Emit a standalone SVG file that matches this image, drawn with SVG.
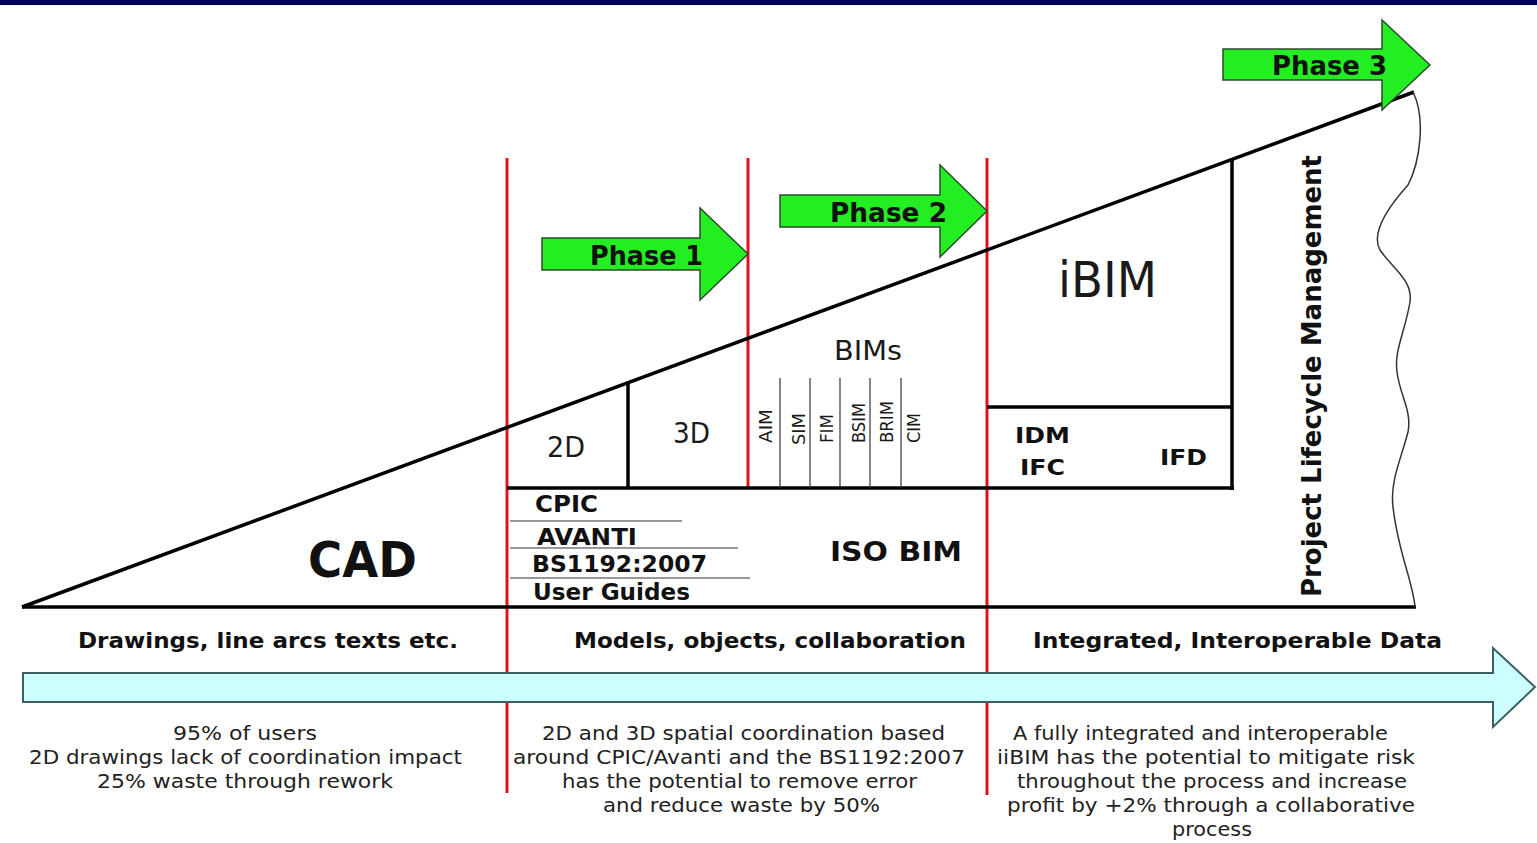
<svg xmlns="http://www.w3.org/2000/svg" width="1537" height="843" viewBox="0 0 1537 843">
<style>
.b{font-family:"DejaVu Sans","Liberation Sans",sans-serif;font-weight:bold;fill:#111}
.r{font-family:"DejaVu Sans","Liberation Sans",sans-serif;fill:#1a1a1a}
.note{font-family:"DejaVu Sans","Liberation Sans",sans-serif;font-size:19px;fill:#222}
.thick{stroke:#000;stroke-width:3.5;fill:none}
.thin{stroke:#333;stroke-width:1.2;fill:none}
.red{stroke:#e0101e;stroke-width:3;fill:none}
.phase{fill:#22ee22;stroke:#2c4c2c;stroke-width:1.5}
</style>
<rect x="0" y="0" width="1537" height="843" fill="#ffffff"/>
<rect x="0" y="0" width="1537" height="5" fill="#000060"/>

<g id="connectors">
  <g id="dividers">
    <line class="red" x1="507" y1="158" x2="507" y2="793"/>
    <line class="red" x1="748" y1="158" x2="748" y2="488"/>
    <line class="red" x1="987" y1="158" x2="987" y2="795"/>
  </g>
  <g id="frame">
    <line class="thick" x1="22" y1="607" x2="1414" y2="92"/>
    <line class="thick" x1="22" y1="607" x2="1416" y2="607"/>
    <path d="M1413,92 C1426,118 1420,162 1408,185 C1390,205 1370,232 1380,250 C1392,268 1413,280 1410,302 C1405,332 1394,350 1397,372 C1400,396 1412,410 1408,432 C1400,462 1390,482 1393,507 C1398,552 1413,582 1415,607" fill="none" stroke="#333" stroke-width="1.5"/>
    <line class="thick" x1="628" y1="383" x2="628" y2="488"/>
    <line class="thick" x1="507" y1="488" x2="1234" y2="488"/>
    <line class="thick" x1="1232" y1="159" x2="1232" y2="490"/>
    <line class="thick" x1="987" y1="407" x2="1232" y2="407"/>
    <line class="thin" x1="780" y1="378" x2="780" y2="488"/>
    <line class="thin" x1="810" y1="378" x2="810" y2="488"/>
    <line class="thin" x1="840" y1="378" x2="840" y2="488"/>
    <line class="thin" x1="870" y1="378" x2="870" y2="488"/>
    <line class="thin" x1="901" y1="378" x2="901" y2="488"/>
    <line class="thin" x1="510" y1="521" x2="682" y2="521"/>
    <line class="thin" x1="510" y1="548" x2="738" y2="548"/>
    <line class="thin" x1="510" y1="578" x2="750" y2="578"/>
  </g>
</g>

<g id="timeline-arrow">
  <polygon points="23,673 1493,673 1493,648 1535,687 1493,727 1493,702 23,702" fill="#ccffff" stroke="#3d5f5f" stroke-width="2"/>
</g>

<g id="phase1">
  <polygon class="phase" points="542,238 700,238 700,208 748,254 700,300 700,270 542,270"/>
  <text class="b" x="590" y="265" font-size="26" textLength="113" lengthAdjust="spacingAndGlyphs">Phase 1</text>
</g>
<g id="phase2">
  <polygon class="phase" points="780,195 940,195 940,165 987,211 940,257 940,227 780,227"/>
  <text class="b" x="830" y="222" font-size="26" textLength="117" lengthAdjust="spacingAndGlyphs">Phase 2</text>
</g>
<g id="phase3">
  <polygon class="phase" points="1223,49 1382,49 1382,20 1430,65 1382,110 1382,80 1223,80"/>
  <text class="b" x="1272" y="75" font-size="26" textLength="115" lengthAdjust="spacingAndGlyphs">Phase 3</text>
</g>

<g id="cad">
  <text class="b" x="308" y="577" font-size="49" textLength="109" lengthAdjust="spacingAndGlyphs">CAD</text>
</g>
<g id="bim-2d"><text class="r" x="547" y="457" font-size="28" textLength="38" lengthAdjust="spacingAndGlyphs">2D</text></g>
<g id="bim-3d"><text class="r" x="673" y="443" font-size="28" textLength="37" lengthAdjust="spacingAndGlyphs">3D</text></g>
<g id="bims">
  <text class="r" x="834" y="360" font-size="26" textLength="68" lengthAdjust="spacingAndGlyphs">BIMs</text>
  <text class="r" font-size="17" transform="translate(772,443) rotate(-90)" textLength="34" lengthAdjust="spacingAndGlyphs">AIM</text>
  <text class="r" font-size="17" transform="translate(805,445) rotate(-90)" textLength="32" lengthAdjust="spacingAndGlyphs">SIM</text>
  <text class="r" font-size="17" transform="translate(833,443) rotate(-90)" textLength="29" lengthAdjust="spacingAndGlyphs">FIM</text>
  <text class="r" font-size="17" transform="translate(865,443) rotate(-90)" textLength="40" lengthAdjust="spacingAndGlyphs">BSIM</text>
  <text class="r" font-size="17" transform="translate(893,443) rotate(-90)" textLength="42" lengthAdjust="spacingAndGlyphs">BRIM</text>
  <text class="r" font-size="17" transform="translate(920,443) rotate(-90)" textLength="30" lengthAdjust="spacingAndGlyphs">CIM</text>
</g>
<g id="iso-bim">
  <text class="b" x="535" y="512" font-size="23" textLength="63" lengthAdjust="spacingAndGlyphs">CPIC</text>
  <text class="b" x="537" y="545" font-size="23" textLength="100" lengthAdjust="spacingAndGlyphs">AVANTI</text>
  <text class="b" x="532" y="572" font-size="23" textLength="175" lengthAdjust="spacingAndGlyphs">BS1192:2007</text>
  <text class="b" x="533" y="600" font-size="23" textLength="157" lengthAdjust="spacingAndGlyphs">User Guides</text>
  <text class="b" x="830" y="561" font-size="26" textLength="132" lengthAdjust="spacingAndGlyphs">ISO BIM</text>
</g>
<g id="ibim">
  <text class="r" x="1058" y="297" font-size="49" textLength="99" lengthAdjust="spacingAndGlyphs">iBIM</text>
  <text class="b" x="1015" y="443" font-size="22" textLength="55" lengthAdjust="spacingAndGlyphs">IDM</text>
  <text class="b" x="1020" y="475" font-size="22" textLength="45" lengthAdjust="spacingAndGlyphs">IFC</text>
  <text class="b" x="1160" y="465" font-size="22" textLength="47" lengthAdjust="spacingAndGlyphs">IFD</text>
</g>
<g id="plm">
  <text class="b" font-size="27" transform="translate(1321,597) rotate(-90)" textLength="442" lengthAdjust="spacingAndGlyphs">Project Lifecycle Management</text>
</g>

<g id="stage-labels">
  <text class="b" x="78" y="648" font-size="22" textLength="380" lengthAdjust="spacingAndGlyphs">Drawings, line arcs texts etc.</text>
  <text class="b" x="574" y="648" font-size="22" textLength="392" lengthAdjust="spacingAndGlyphs">Models, objects, collaboration</text>
  <text class="b" x="1033" y="648" font-size="22" textLength="409" lengthAdjust="spacingAndGlyphs">Integrated, Interoperable Data</text>
</g>

<g id="note-cad">
  <text class="note" x="173" y="740" textLength="144" lengthAdjust="spacingAndGlyphs">95% of users</text>
  <text class="note" x="29" y="764" textLength="433" lengthAdjust="spacingAndGlyphs">2D drawings lack of coordination impact</text>
  <text class="note" x="97" y="788" textLength="296" lengthAdjust="spacingAndGlyphs">25% waste through rework</text>
</g>
<g id="note-bim">
  <text class="note" x="542" y="740" textLength="403" lengthAdjust="spacingAndGlyphs">2D and 3D spatial coordination based</text>
  <text class="note" x="513" y="764" textLength="452" lengthAdjust="spacingAndGlyphs">around CPIC/Avanti and the BS1192:2007</text>
  <text class="note" x="562" y="788" textLength="355" lengthAdjust="spacingAndGlyphs">has the potential to remove error</text>
  <text class="note" x="603" y="812" textLength="277" lengthAdjust="spacingAndGlyphs">and reduce waste by 50%</text>
</g>
<g id="note-ibim">
  <text class="note" x="1013" y="740" textLength="375" lengthAdjust="spacingAndGlyphs">A fully integrated and interoperable</text>
  <text class="note" x="997" y="764" textLength="418" lengthAdjust="spacingAndGlyphs">iiBIM has the potential to mitigate risk</text>
  <text class="note" x="1017" y="788" textLength="390" lengthAdjust="spacingAndGlyphs">throughout the process and increase</text>
  <text class="note" x="1007" y="812" textLength="408" lengthAdjust="spacingAndGlyphs">profit by +2% through a collaborative</text>
  <text class="note" x="1172" y="836" textLength="80" lengthAdjust="spacingAndGlyphs">process</text>
</g>
</svg>
